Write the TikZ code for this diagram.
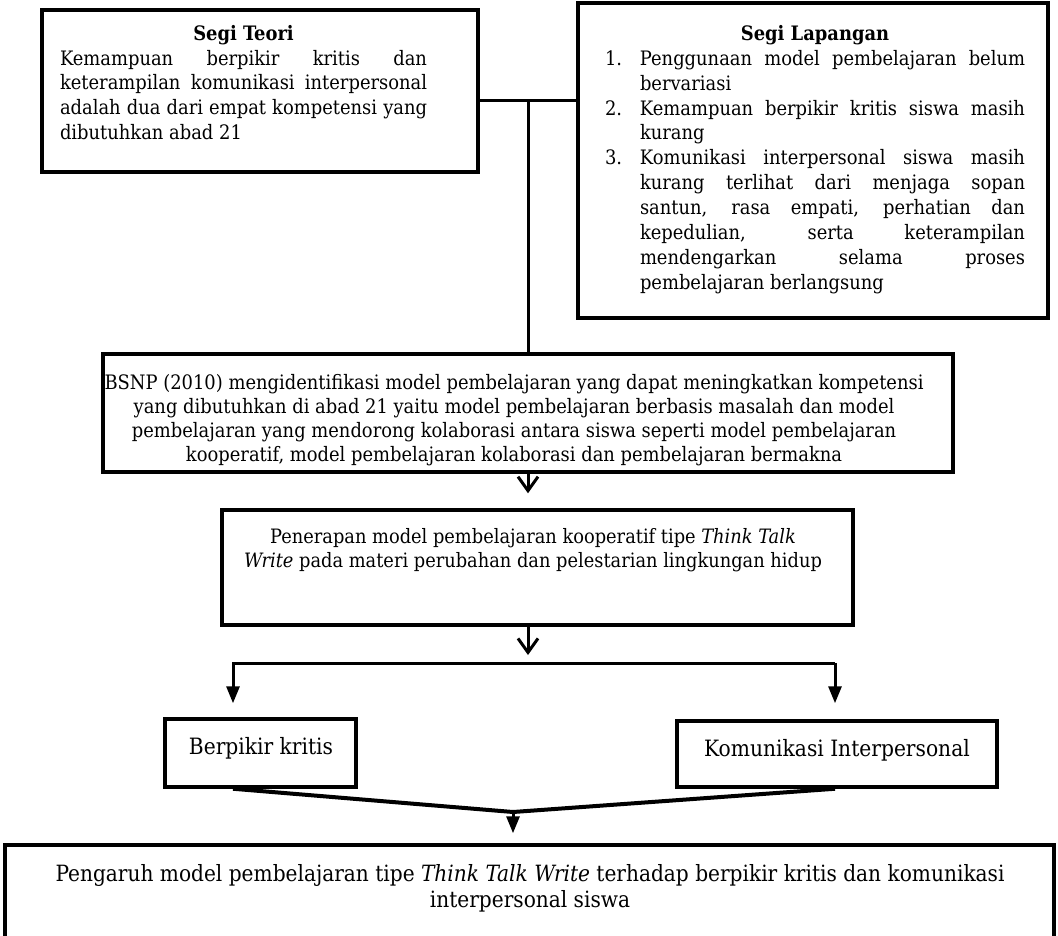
\documentclass[tikz,border=0pt]{standalone}
\usepackage{fontspec}
\setmainfont{DejaVu Serif Condensed}
\usetikzlibrary{arrows.meta,positioning}

\tikzset{
  kotak/.style={draw,line width=3.5pt,inner sep=0pt},
  teks/.style={inner sep=0pt,align=center},
  garis/.style={line width=3pt},
  panahv/.style={garis,-{Straight Barb[length=14pt,width=20pt]}},
  panahs/.style={garis,-{Triangle[length=17pt,width=13pt]}},
}

\begin{document}
\begin{tikzpicture}[x=1pt,y=-1pt]
\useasboundingbox (0,0) rectangle (1058,935);
% kotak
\node[kotak,minimum width=436pt,minimum height=162pt] (teori) at (260,91) {};
\node[kotak,minimum width=470pt,minimum height=315pt] (lapangan) at (813,160.5) {};
\node[kotak,minimum width=850pt,minimum height=118pt] (bsnp) at (528,413) {};
\node[kotak,minimum width=631pt,minimum height=115pt] (ttw) at (537.5,567.5) {};
\node[kotak,minimum width=191pt,minimum height=68pt] (kritis) at (260.5,753) {};
\node[kotak,minimum width=320pt,minimum height=66pt] (komunikasi) at (837,754) {};
\node[kotak,minimum width=1049pt,minimum height=110pt] (pengaruh) at (529.5,900) {};

% teks
\node[teks,anchor=north,font=\fontsize{19.9}{24.7}\selectfont] (teks-teori) at (243.5,25) {%
  \textbf{Segi Teori}\\
  \makebox[367pt][s]{Kemampuan berpikir kritis dan}\\
  \makebox[367pt][s]{keterampilan komunikasi interpersonal}\\
  \makebox[367pt][s]{adalah dua dari empat kompetensi yang}\\
  \makebox[367pt][l]{dibutuhkan abad 21}};
\node[teks,anchor=north,font=\fontsize{19.9}{24.9}\selectfont] (teks-lapangan) at (815,25) {%
  \makebox[420pt]{\textbf{Segi Lapangan}}\\
  \makebox[35pt][l]{1.}\makebox[385pt][s]{Penggunaan model pembelajaran belum}\\
  \makebox[35pt][l]{}\makebox[385pt][l]{bervariasi}\\
  \makebox[35pt][l]{2.}\makebox[385pt][s]{Kemampuan berpikir kritis siswa masih}\\
  \makebox[35pt][l]{}\makebox[385pt][l]{kurang}\\
  \makebox[35pt][l]{3.}\makebox[385pt][s]{Komunikasi interpersonal siswa masih}\\
  \makebox[35pt][l]{}\makebox[385pt][s]{kurang terlihat dari menjaga sopan}\\
  \makebox[35pt][l]{}\makebox[385pt][s]{santun, rasa empati, perhatian dan}\\
  \makebox[35pt][l]{}\makebox[385pt][s]{kepedulian, serta keterampilan}\\
  \makebox[35pt][l]{}\makebox[385pt][s]{mendengarkan selama proses}\\
  \makebox[35pt][l]{}\makebox[385pt][l]{pembelajaran berlangsung}};
\node[teks,anchor=north,font=\fontsize{19.9}{24}\selectfont] (teks-bsnp) at (514,374) {%
  BSNP (2010) mengidentifikasi model pembelajaran yang dapat meningkatkan kompetensi\\
  yang dibutuhkan di abad 21 yaitu model pembelajaran berbasis masalah dan model\\
  pembelajaran yang mendorong kolaborasi antara siswa seperti model pembelajaran\\
  kooperatif, model pembelajaran kolaborasi dan pembelajaran bermakna};
\node[teks,anchor=north,font=\fontsize{19.8}{24}\selectfont] (teks-ttw) at (533,528) {%
  Penerapan model pembelajaran kooperatif tipe \textit{Think Talk}\\
  \textit{Write} pada materi perubahan dan pelestarian lingkungan hidup};
\node[teks,anchor=base,font=\fontsize{22.5}{26}\selectfont] (teks-kritis) at (261,754) {Berpikir kritis};
\node[teks,anchor=base,font=\fontsize{22.5}{26}\selectfont] (teks-komunikasi) at (837,756) {Komunikasi Interpersonal};
\node[teks,anchor=north,font=\fontsize{22.4}{26}\selectfont] (teks-pengaruh) at (530,864) {%
  Pengaruh model pembelajaran tipe \textit{Think Talk Write} terhadap berpikir kritis dan komunikasi\\
  interpersonal siswa};

% penghubung
\coordinate (jn) at (528,100);
\coordinate (cabang) at (528,663);
\coordinate (kiri) at (233,663);
\coordinate (kanan) at (835,663);
\coordinate (temu) at (513,812);
\draw[garis] (teori.east |- jn) -- (lapangan.west |- jn);
\draw[garis] (jn) -- (jn |- bsnp.north);
\draw[panahv,shorten >=15pt] (jn |- bsnp.south) -- (jn |- ttw.north);
\draw[panahv,shorten >=8pt] (jn |- ttw.south) -- (cabang);
\draw[panahs,shorten >=14pt] (kanan) -- (kiri) -- (kiri |- kritis.north);
\draw[panahs,shorten >=16pt] (kanan) -- (kanan |- komunikasi.north);
\draw[line width=4pt] (kiri |- kritis.south) -- (temu) -- (kanan |- komunikasi.south);
\draw[panahs,shorten >=10pt] (temu) -- (temu |- pengaruh.north);
\end{tikzpicture}
\end{document}
